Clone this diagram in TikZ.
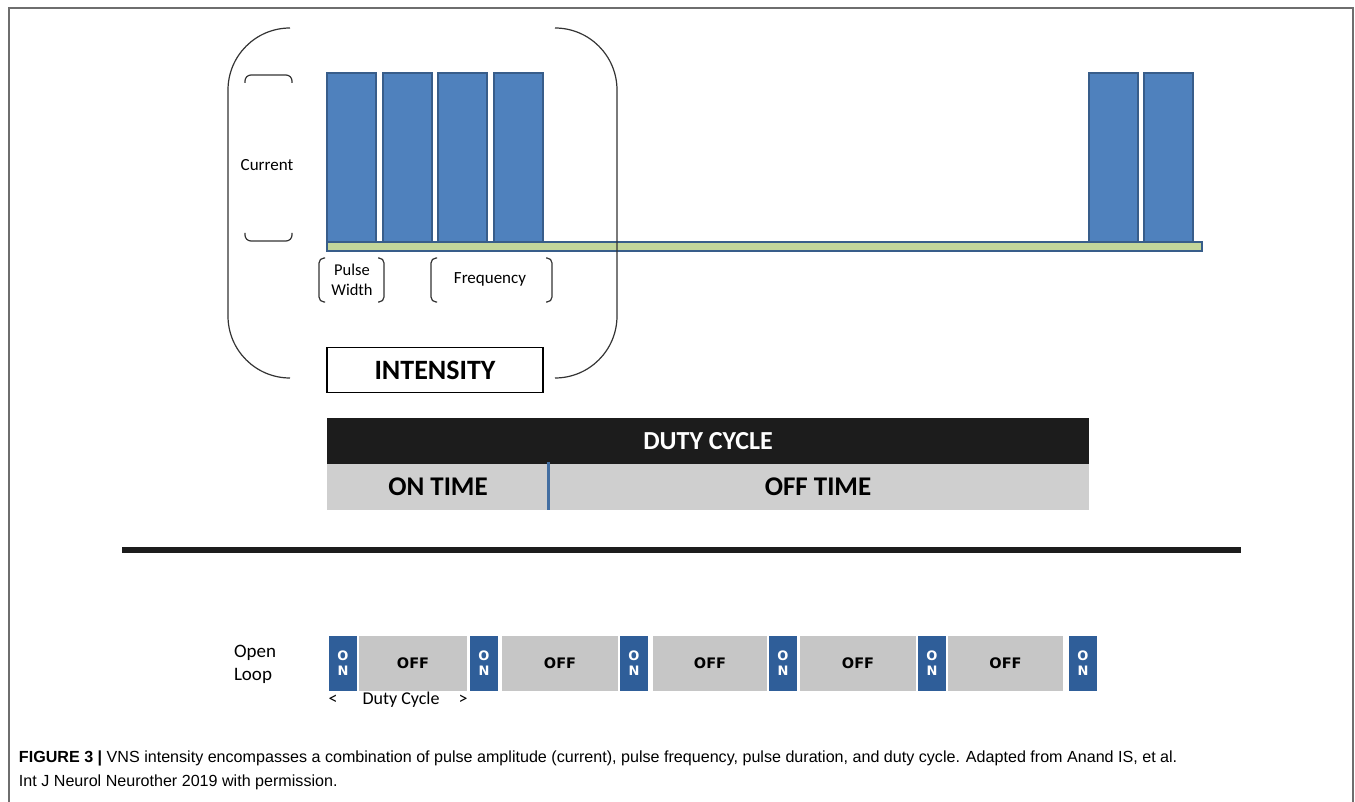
\documentclass[tikz,border=0pt]{standalone}
\usepackage{fontspec}
\setmainfont{Carlito}
\newfontfamily\capfont{Liberation Sans}
\newfontfamily\blockfont{DejaVu Sans}
\newcommand\fsz[1]{\fontsize{#1}{#1}\selectfont}
\definecolor{barblue}{HTML}{4F81BD}
\definecolor{barline}{HTML}{385D8A}
\definecolor{stripgreen}{HTML}{C3D69B}
\definecolor{onblue}{HTML}{2F5E99}
\definecolor{offgray}{HTML}{C6C6C6}
\definecolor{timegray}{HTML}{CFCFCF}
\definecolor{dutyblack}{HTML}{1C1C1C}
\definecolor{framegray}{HTML}{6E6E6E}
\begin{document}
\begin{tikzpicture}
[x=1pt, y=-1pt,
pulse/.style={draw=barline, fill=barblue, line width=1.5pt, minimum width=49, minimum height=169, anchor=south west},
onbox/.style={fill=onblue, minimum width=28, minimum height=55, anchor=north west, align=center, text=white, font=\blockfont\bfseries\fontsize{13}{15}\selectfont},
offbox/.style={fill=offgray, minimum height=55, anchor=north west, font=\blockfont\bfseries\fsz{14.5}},
brace/.style={line width=1.2pt, black!80, rounded corners=6pt}
]
\tikzset{every node/.style={inner sep=0pt, outer sep=0pt, font=\fsz{17}}}
\useasboundingbox (0,0) rectangle (1355,802);
\draw[framegray, line width=1.5pt] (9,802) -- (9,8) -- (1353,8) -- (1353,802);

% pulses
\node[pulse] (p1) at (327,242) {};
\node[pulse] (p2) at (383,242) {};
\node[pulse] (p3) at (438,242) {};
\node[pulse] (p4) at (494,242) {};
\node[pulse] (p5) at (1089,242) {};
\node[pulse] (p6) at (1144,242) {};
\node[draw=barline, fill=stripgreen, line width=1.5pt, minimum width=875, minimum height=9, anchor=north west] (base) at (327,242) {};

% intensity bracket
\draw[brace, rounded corners=62pt] (290,28) -- (228,28) -- (228,378) -- (290,378);
\draw[brace, rounded corners=62pt] (555,28) -- (617,28) -- (617,378) -- (555,378);
\draw[brace] (245,83) -- (245,75) -- (292,75) -- (292,83);
\draw[brace] (245,233) -- (245,241) -- (292,241) -- (292,233);
\node (cur) at (267,165) {Current};
\draw[brace, rounded corners=5pt] (325,258) -- (319,258) -- (319,302) -- (325,302);
\draw[brace, rounded corners=5pt] (378,258) -- (384,258) -- (384,302) -- (378,302);
\node[align=center, font=\fontsize{16.5}{20}\selectfont] (pw) at (352,280) {Pulse\\Width};
\draw[brace, rounded corners=5pt] (437,258) -- (431,258) -- (431,302) -- (437,302);
\draw[brace, rounded corners=5pt] (546,258) -- (552,258) -- (552,302) -- (546,302);
\node (freq) at (490,279) {Frequency};
\node[draw, line width=1.5pt, minimum width=216, minimum height=45, font=\bfseries\fsz{28}] (inten) at (435,370) {INTENSITY};

% duty cycle
\node[fill=dutyblack, minimum width=762, minimum height=46, anchor=north west, text=white, font=\bfseries\fsz{26}] (duty) at (327,418) {DUTY CYCLE};
\node[fill=timegray, minimum width=762, minimum height=46, anchor=north west] (times) at (duty.south west) {};
\node[font=\bfseries\fsz{27}] (ontime) at (438,487) {ON TIME};
\node[font=\bfseries\fsz{27}] (offtime) at (818,487) {OFF TIME};
\draw[barblue!85!black, line width=3pt] (548,462) -- (548,510);

\draw[dutyblack, line width=6pt] (122,550) -- (1241,550);

% open loop
\node[align=left, font=\fontsize{19}{23}\selectfont] (open) at (255,664) {Open\\Loop};
\node[onbox] (on1) at (329,636) {O\\N};
\node[offbox, minimum width=108] (off1) at (359,636) {OFF};
\node[onbox] (on2) at (470,636) {O\\N};
\node[offbox, minimum width=116] (off2) at (502,636) {OFF};
\node[onbox] (on3) at (620,636) {O\\N};
\node[offbox, minimum width=114] (off3) at (653,636) {OFF};
\node[onbox] (on4) at (769,636) {O\\N};
\node[offbox, minimum width=116] (off4) at (800,636) {OFF};
\node[onbox] (on5) at (918,636) {O\\N};
\node[offbox, minimum width=115] (off5) at (948,636) {OFF};
\node[onbox] (on6) at (1069,636) {O\\N};
\node[font=\fsz{18}] (lt) at (333,700) {<};
\node[font=\fsz{18}] (dc) at (401,700) {Duty Cycle};
\node[font=\fsz{18}] (gt) at (463,700) {>};

% caption
\node[anchor=west, font=\capfont\fsz{16.1}] (cap1) at (19,758) {{\bfseries FIGURE 3 |} VNS intensity encompasses a combination of pulse amplitude (current), pulse frequency, pulse duration, and duty cycle. Adapted from Anand IS, et al.};
\node[anchor=west, font=\capfont\fsz{16.1}] (cap2) at (19,782) {Int J Neurol Neurother 2019 with permission.};
\end{tikzpicture}
\end{document}
